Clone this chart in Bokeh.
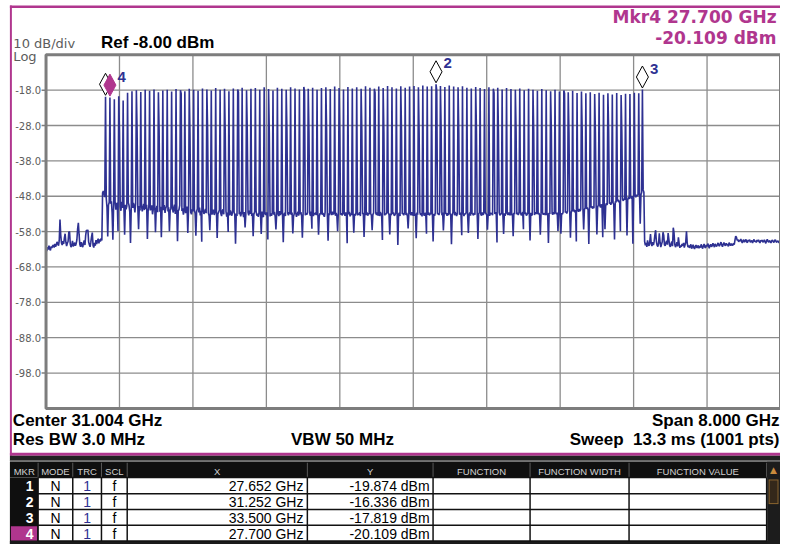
import numpy as np
from bokeh.plotting import figure
from bokeh.models import Range1d
from bokeh.embed import file_html
from bokeh.resources import INLINE
from bokeh.core.properties import value

# ---------------- instrument settings ----------------
center_ghz = 31.004
span_ghz = 8.000
n_points = 1001
ref_level_dbm = -8.00
db_per_div = 10
n_divisions = 10
rbw_text = "Res BW 3.0 MHz"
vbw_text = "VBW 50 MHz"
sweep_text = "Sweep\u00a0 13.3 ms (1001 pts)"

y_tick_values = [-18.0, -28.0, -38.0, -48.0, -58.0, -68.0, -78.0, -88.0, -98.0]
x_grid_values = [27.804, 28.604, 29.404, 30.204, 31.004, 31.804, 32.604, 33.404, 34.204]

# ---------------- marker table ----------------
marker_ids = ["1", "2", "3", "4"]
marker_mode = ["N", "N", "N", "N"]
marker_trc = ["1", "1", "1", "1"]
marker_scl = ["f", "f", "f", "f"]
marker_freq_ghz = [27.652, 31.252, 33.500, 27.700]
marker_level_dbm = [-19.874, -16.336, -17.819, -20.109]
active_marker = 3
table_headers = ["MKR", "MODE", "TRC", "SCL", "X", "Y", "FUNCTION", "FUNCTION WIDTH", "FUNCTION VALUE"]

# ---------------- trace (dBm per sweep point) ----------------
noise_left_dbm = [
    -62.8, -63.5, -62.4, -63.1, -62.0, -62.9, -63.3, -62.2, -62.6, -62.0,
    -61.8, -62.5, -61.5, -62.3, -61.7, -60.9, -61.4, -62.0, -60.5, -54.6,
    -58.9, -61.2, -61.8, -60.7, -61.5, -59.8, -58.6, -61.0, -62.1, -61.3,
    -60.8, -58.2, -58.0, -61.5, -62.4, -61.9, -60.6, -62.2, -61.8, -61.1,
    -62.0, -61.4, -60.3, -57.2, -55.5, -58.8, -61.6, -62.3, -61.0, -61.9,
    -62.4, -61.2, -60.5, -61.8, -59.0, -57.6, -57.8, -57.5, -60.9, -61.7,
    -62.3, -61.0, -59.4, -58.3, -61.9, -62.5, -61.2, -62.0, -60.4, -61.5,
    -60.6, -60.0, -61.3, -60.2, -60.8, -59.9, -60.5,
]
shoulder_left_dbm = [-47.0, -46.5, -47.3, -48.2]

tone_peak_dbm = [
    -19.87, -20.11, -20.6, -19.7, -20.9, -18.7, -18.3, -18.0, -18.5, -17.9,
    -18.2, -17.8, -18.6, -18.1, -17.9, -18.4, -17.7, -18.0, -18.3, -17.6,
    -17.9, -18.2, -17.5, -17.8, -18.1, -17.4, -17.9, -17.6, -18.3, -17.5,
    -17.8, -17.3, -18.0, -17.6, -17.4, -17.9, -17.2, -17.7, -18.1, -17.3,
    -17.6, -17.9, -17.2, -17.5, -17.8, -17.1, -17.6, -17.3, -17.9, -17.4,
    -17.2, -17.7, -17.0, -17.4, -17.8, -17.1, -17.5, -17.2, -17.6, -16.9,
    -17.3, -17.6, -17.0, -17.4, -16.8, -17.2, -17.5, -16.9, -17.3, -17.0,
    -16.8, -17.2, -16.7, -17.0, -16.9, -16.34, -16.8, -17.1, -16.7, -17.0,
    -17.2, -16.9, -17.3, -17.5, -17.1, -17.4, -17.7, -17.2, -17.6, -17.3,
    -17.8, -17.4, -17.7, -17.9, -17.5, -18.0, -17.6, -17.9, -18.2, -17.7,
    -18.0, -18.3, -17.9, -18.4, -18.1, -18.6, -18.2, -18.8, -18.4, -18.9,
    -18.6, -19.1, -18.7, -19.3, -18.9, -19.2, -18.8, -19.4, -19.0, -19.1,
    -18.7, -18.9, -17.82,
]

gap_floor_dbm = [
    [-48.6, -51.2, -59.4, -50.5, -49.7], [-50.1, -49.4, -52.8, -60.3, -50.6],
    [-49.5, -51.8, -50.2, -49.9, -57.8], [-30.2, -50.9, -52.1, -49.6, -51.3],
    [-51.0, -58.9, -50.4, -51.7, -50.8], [-49.8, -50.6, -52.4, -61.2, -51.5],
    [-51.3, -49.9, -50.7, -52.6, -50.1], [-29.6, -51.4, -57.3, -50.8, -52.0],
    [-50.7, -52.3, -51.1, -50.2, -51.9], [-51.6, -50.4, -60.1, -52.2, -50.9],
    [-52.0, -51.3, -50.6, -53.1, -51.7], [-50.3, -58.2, -51.8, -50.7, -52.5],
    [-29.8, -52.4, -51.0, -59.6, -51.2], [-51.9, -50.5, -52.7, -51.4, -50.8],
    [-52.3, -51.1, -57.9, -52.0, -51.6], [-50.9, -52.6, -51.3, -50.4, -53.0],
    [-51.5, -60.7, -52.1, -51.8, -50.6], [-18.9, -52.2, -51.4, -53.2, -52.0],
    [-52.8, -51.6, -50.9, -58.4, -51.9], [-30.4, -52.5, -53.1, -51.7, -52.3],
    [-51.8, -52.9, -59.2, -52.4, -51.5], [-52.6, -51.2, -53.4, -52.1, -60.9],
    [-51.9, -53.0, -52.3, -51.6, -52.8], [-29.4, -52.7, -53.5, -57.6, -52.0],
    [-53.2, -52.4, -51.8, -53.3, -52.6], [-52.1, -59.8, -53.0, -52.5, -51.9],
    [-52.9, -53.6, -52.2, -51.7, -53.1], [-30.1, -52.3, -53.8, -52.6, -58.1],
    [-53.4, -52.0, -52.8, -53.5, -52.2], [-52.5, -53.2, -61.4, -52.9, -53.6],
    [-18.6, -53.1, -52.4, -53.7, -52.8], [-52.7, -53.9, -52.5, -56.8, -53.2],
    [-29.7, -52.6, -53.4, -52.1, -53.0], [-53.6, -52.8, -59.3, -53.1, -52.4],
    [-52.2, -53.5, -52.9, -53.8, -52.6], [-53.0, -58.7, -52.3, -53.4, -53.9],
    [-52.8, -53.3, -52.6, -53.0, -60.2], [-30.3, -53.7, -52.9, -53.5, -52.7],
    [-53.2, -52.4, -53.8, -57.4, -53.1], [-52.9, -53.6, -52.2, -53.3, -52.8],
    [-53.5, -61.0, -53.1, -52.7, -53.6], [-29.5, -52.8, -53.4, -52.5, -53.0],
    [-53.3, -52.6, -58.5, -53.7, -52.9], [-52.7, -53.8, -53.0, -52.4, -53.5],
    [-53.1, -52.5, -53.6, -59.7, -52.8], [-18.4, -53.4, -52.7, -53.2, -52.6],
    [-30.0, -52.9, -53.5, -52.3, -57.2], [-53.6, -52.8, -53.1, -52.6, -53.3],
    [-52.4, -58.9, -53.7, -52.9, -53.0], [-53.2, -52.7, -53.4, -53.8, -52.5],
    [-29.3, -53.0, -60.6, -52.8, -53.4], [-52.6, -53.3, -52.4, -53.1, -52.9],
    [-53.5, -52.7, -53.6, -57.9, -52.3], [-30.6, -53.2, -52.8, -53.4, -53.0],
    [-52.8, -53.5, -52.6, -53.2, -61.3], [-53.1, -52.4, -53.7, -52.9, -53.3],
    [-52.7, -58.3, -53.0, -53.5, -52.6], [-53.4, -52.9, -53.2, -52.5, -53.6],
    [-29.8, -53.1, -52.7, -59.5, -53.0], [-53.3, -52.6, -53.5, -52.8, -53.1],
    [-52.9, -53.4, -57.6, -53.2, -52.7], [-18.7, -52.8, -53.3, -52.6, -53.5],
    [-53.6, -52.5, -53.0, -53.7, -60.4], [-30.2, -53.4, -52.9, -53.1, -52.6],
    [-52.7, -53.2, -58.8, -52.9, -53.4], [-53.0, -52.6, -53.5, -53.3, -52.8],
    [-52.5, -61.8, -53.1, -52.7, -53.6], [-29.9, -53.0, -52.8, -53.4, -52.6],
    [-53.3, -52.7, -53.6, -57.1, -53.0], [-52.8, -53.4, -52.5, -53.1, -53.5],
    [-53.5, -52.9, -59.9, -52.6, -53.2], [-30.5, -52.6, -53.3, -52.8, -53.7],
    [-52.9, -53.5, -52.7, -53.0, -58.6], [-53.2, -52.6, -53.4, -52.9, -53.1],
    [-52.6, -60.8, -53.0, -53.5, -52.7], [-18.2, -53.1, -52.8, -53.3, -52.5],
    [-29.6, -53.4, -52.6, -57.7, -53.2], [-53.0, -52.7, -53.5, -52.8, -53.4],
    [-52.8, -53.3, -61.6, -53.1, -52.6], [-53.4, -52.5, -53.0, -53.6, -52.9],
    [-30.1, -53.2, -52.7, -53.3, -59.0], [-52.7, -53.6, -52.9, -53.1, -52.5],
    [-53.3, -58.4, -53.2, -52.6, -53.5], [-52.9, -53.0, -53.4, -52.7, -53.2],
    [-29.4, -52.8, -60.1, -53.0, -52.6], [-53.1, -53.5, -52.6, -53.3, -52.9],
    [-52.6, -52.9, -53.3, -57.5, -53.0], [-53.5, -52.7, -53.0, -52.8, -53.4],
    [-18.8, -53.0, -52.5, -53.2, -61.1], [-30.4, -52.6, -53.4, -52.9, -53.1],
    [-53.2, -58.7, -52.8, -53.5, -52.7], [-52.8, -53.3, -52.6, -53.0, -53.4],
    [-53.4, -52.9, -59.3, -52.7, -53.1], [-29.7, -53.1, -52.7, -53.3, -52.6],
    [-52.7, -53.4, -53.0, -52.5, -57.3], [-53.0, -52.6, -53.5, -53.1, -52.8],
    [-52.9, -60.5, -52.7, -53.2, -53.4], [-30.0, -53.3, -52.8, -52.6, -53.0],
    [-53.1, -52.7, -53.4, -58.9, -52.6], [-52.6, -53.2, -52.9, -53.0, -53.3],
    [-53.3, -52.8, -61.2, -52.7, -53.0], [-29.5, -52.9, -53.2, -52.5, -53.1],
    [-52.7, -53.0, -52.6, -57.8, -52.9], [-52.4, -58.6, -52.8, -53.1, -52.5],
    [-18.9, -52.6, -52.3, -52.9, -52.2], [-30.2, -52.1, -59.7, -52.6, -52.0],
    [-52.3, -51.8, -52.5, -51.9, -60.8], [-51.9, -52.4, -51.6, -52.2, -51.7],
    [-29.8, -51.5, -57.4, -51.8, -51.3], [-51.6, -51.2, -51.9, -61.5, -51.0],
    [-51.2, -50.8, -51.5, -50.9, -51.4], [-30.4, -50.6, -58.8, -51.1, -50.4],
    [-50.7, -51.2, -50.3, -50.9, -59.6], [-50.2, -57.3, -50.6, -50.0, -50.5],
    [-29.6, -50.1, -49.8, -50.4, -49.6], [-49.9, -50.3, -60.2, -49.5, -49.8],
    [-49.4, -49.0, -49.7, -49.2, -57.9], [-30.1, -48.9, -49.3, -48.7, -49.0],
    [-48.6, -59.1, -48.9, -48.3, -48.8], [-48.2, -48.7, -47.9, -61.4, -48.4],
    [-47.8, -48.3, -47.6, -48.0, -47.5], [-47.2, -55.8, -47.6, -46.9],
]
shoulder_right_dbm = [-46.2, -46.9]

noise_right_dbm = [
    -60.8, -61.9, -61.2, -62.3, -60.5, -61.7, -62.0, -60.9, -58.7, -61.5,
    -62.1, -61.0, -61.8, -60.7, -58.9, -57.6, -60.8, -61.9, -62.2, -61.3,
    -58.5, -61.0, -62.4, -61.6, -60.9, -58.2, -59.0, -61.8, -62.0, -61.1,
    -60.6, -61.7, -58.4, -60.2, -61.9, -62.3, -61.5, -60.8, -62.1, -56.9,
    -58.3, -61.6, -62.4, -61.8, -61.0, -62.2, -59.6, -61.4, -62.6, -61.9,
    -62.3, -61.5, -62.0, -61.2, -62.5, -61.8, -60.9, -57.9, -61.3, -62.4,
    -61.9, -62.6, -62.1, -61.6, -62.8, -62.3, -61.7, -62.5, -62.9, -62.2,
    -61.8, -62.6, -62.4, -61.9, -62.7, -62.1, -62.5, -61.6, -62.3, -62.8,
    -62.0, -61.5, -62.4, -62.6, -61.8, -62.2, -61.4, -62.0, -62.7, -61.9,
    -61.6, -62.3, -62.0, -61.3, -61.8, -62.4, -61.5, -61.9, -62.2, -61.7,
    -61.2, -61.9, -62.1, -61.4, -61.0, -61.8, -62.3, -61.6, -61.1, -61.7,
    -62.0, -61.3, -61.8, -61.5, -62.2, -61.1, -61.6, -62.0, -61.4, -61.8,
    -61.9, -61.3, -61.7, -60.4, -59.3, -59.6, -60.5, -60.2, -60.9, -60.4,
    -60.7, -60.1, -60.8, -61.2, -60.5, -60.3, -61.0, -60.6, -60.2, -60.9,
    -61.1, -60.4, -60.7, -60.3, -61.0, -60.8, -60.5, -61.2, -60.6, -60.2,
    -60.9, -60.6, -61.1, -60.4, -60.8, -60.3, -60.9, -61.2, -60.5, -60.7,
    -60.4, -61.0, -60.8, -60.3, -60.9, -61.3, -60.6, -60.2, -60.8, -61.0,
    -60.5, -60.9, -61.2, -60.6, -60.4, -60.8, -61.1, -60.5, -60.3, -60.9,
    -61.0, -60.6, -60.8, -61.2, -60.5, -60.9,
]

trace_dbm = list(noise_left_dbm) + list(shoulder_left_dbm)
for k, pk in enumerate(tone_peak_dbm):
    trace_dbm.append(pk)
    if k < len(gap_floor_dbm):
        trace_dbm.extend(gap_floor_dbm[k])
trace_dbm += shoulder_right_dbm + noise_right_dbm
assert len(trace_dbm) == n_points, len(trace_dbm)

start_ghz = center_ghz - span_ghz / 2
stop_ghz = center_ghz + span_ghz / 2
bottom_dbm = ref_level_dbm - db_per_div * n_divisions
freq_ghz = np.linspace(start_ghz, stop_ghz, n_points)

# ---------------- styling / layout ----------------
NAVY = "#2e3192"
MAGENTA = "#b0368e"
GRAY_TXT = "#5c5c5c"
GRID = "#8c8c8c"
ARIAL = "Liberation Sans"
WIDE = "DejaVu Sans"

W, H = 780, 544                 # canvas
REF_W, REF_H = 788, 552         # screen layout size
SX, SY = W / REF_W, H / REF_H
GRAT_L, GRAT_R, GRAT_T, GRAT_B = 46.0, 788.0, 55.1, 413.9   # graticule in screen pixels
gl, gr, gt, gb = GRAT_L * SX, GRAT_R * SX, GRAT_T * SY, GRAT_B * SY
px_per_ghz = (gr - gl) / span_ghz
px_per_db = (gb - gt) / (ref_level_dbm - bottom_dbm)


def X(px):   # screen pixel -> frequency coordinate
    return start_ghz + (px * SX - gl) / px_per_ghz


def Y(py):   # screen pixel -> level coordinate
    return ref_level_dbm - (py * SY - gt) / px_per_db


p = figure(width=W, height=H, min_border=0, title=None,
           x_range=Range1d(X(0), X(REF_W)), y_range=Range1d(Y(REF_H), Y(0)),
           x_axis_location=None, y_axis_location=None,
           output_backend="svg", toolbar_location=None)
p.background_fill_color = "white"
p.border_fill_color = "white"
p.outline_line_color = None
p.xgrid.visible = False
p.ygrid.visible = False


def txt(px, py, text, size, color="black", font=ARIAL, style="normal", align="left"):
    """px: anchor x in screen pixels, py: text baseline in screen pixels"""
    cap_mid = 0.36 * size / px_per_db
    p.text(x=[X(px)], y=[Y(py) + cap_mid], text=[text], text_font=value(font),
           text_font_size=f"{size}px", text_color=color, text_font_style=style,
           text_align=align, text_baseline="middle")


# graticule
p.segment(x0=x_grid_values, x1=x_grid_values, y0=bottom_dbm, y1=ref_level_dbm,
          line_color=GRID, line_width=1.3)
p.segment(x0=start_ghz, x1=stop_ghz, y0=y_tick_values, y1=y_tick_values,
          line_color=GRID, line_width=1.3)
p.segment(x0=X(41.5), x1=start_ghz, y0=y_tick_values, y1=y_tick_values,
          line_color="#7d7d7d", line_width=1.5)
p.text(x=X(41), y=y_tick_values, text=[f"{v:.1f}" for v in y_tick_values],
       text_font=value(WIDE), text_font_size="10px", text_color=GRAY_TXT,
       text_align="right", text_baseline="middle")

# trace
p.line(freq_ghz, trace_dbm, line_color=NAVY, line_width=1.6)

# graticule border
p.quad(left=start_ghz, right=stop_ghz, bottom=bottom_dbm, top=ref_level_dbm,
       fill_color=None, line_color="#7d7d7d", line_width=3)

# markers (diamonds sitting above the marked point)
hw, hh, lift = 6.0 / px_per_ghz, 11.0 / px_per_db, 12.5 / px_per_db
order = [i for i in range(len(marker_ids)) if i != active_marker] + [active_marker]
xs, ys, fills, lines = [], [], [], []
for i in order:
    f, lv = marker_freq_ghz[i], marker_level_dbm[i]
    c = lv + lift
    xs.append([f, f + hw, f, f - hw])
    ys.append([c + hh, c, c - hh, c])
    fills.append(MAGENTA if i == active_marker else "white")
    lines.append(MAGENTA if i == active_marker else "black")
p.patches(xs, ys, fill_color=fills, line_color=lines, line_width=1)

lab_idx = [1, 2, 3]
p.text(x=[marker_freq_ghz[i] + 7.5 / px_per_ghz for i in lab_idx],
       y=[marker_level_dbm[i] + (15.5 + 0.36 * 15) / px_per_db for i in lab_idx],
       text=[marker_ids[i] for i in lab_idx], text_font=value(ARIAL), text_font_style="bold",
       text_font_size="15px", text_color=NAVY, text_baseline="middle")

# ---------------- screen frame and marker table (screen pixels) ----------------
bx = {"l": [], "r": [], "t": [], "b": [], "c": []}


def box(x0, x1, y0, y1, color):
    bx["l"].append(X(x0)); bx["r"].append(X(x1))
    bx["t"].append(Y(y0)); bx["b"].append(Y(y1)); bx["c"].append(color)


box(9.5, 788, 5, 7.5, MAGENTA)
box(9.5, 11.5, 5, 462, MAGENTA)
box(9.5, 788, 459, 462, MAGENTA)
box(9.5, 788, 462, 467, "#222222")
box(9.5, 788, 466.5, 468, "#707070")

col_edges = [10, 38, 73, 102, 128, 310, 437, 535, 635, 774]
row_edges = [484, 500.5, 516.5, 532.5, 548.5]
box(9.5, 788, 468, 484, "#0f0f0f")
for e in col_edges[1:]:
    box(e - 0.5, e + 0.5, 469, 484, "#5a5a5a")
box(9.5, 38, 484, 552, "#0f0f0f")
box(38, 774, 484, row_edges[-1], "#ffffff")
box(9.5, 788, row_edges[-1], 552, "#1a1a1a")
act_top, act_bot = row_edges[active_marker], row_edges[active_marker + 1]
box(10.5, 37, act_top + 1, act_bot - 0.5, MAGENTA)
for y in row_edges:
    box(38, 774, y - 0.75, y + 0.75, "#111111")
for e in col_edges[1:]:
    box(e - 0.75, e + 0.75, 484, row_edges[-1], "#111111")
box(774.5, 788, 468, 552, "#1c1c1c")
box(776, 786, 486, 511, "#8a6530")
box(777, 785, 487, 510, "#34281a")

p.quad(left=bx["l"], right=bx["r"], top=bx["t"], bottom=bx["b"],
       fill_color=bx["c"], line_color=None)

txt(781, 480, "\u25b2", 9, "#c98a3c", font=WIDE, align="center")
for j, h in enumerate(table_headers):
    cx = (col_edges[j] + col_edges[j + 1]) / 2
    txt(cx, 481.5, h, 9.5, "#d2d2d2", align="center")

for r in range(len(marker_ids)):
    base = row_edges[r + 1] - 2.5
    txt(33.5, base, marker_ids[r], 14, "white", style="bold", align="right")
    txt((col_edges[1] + col_edges[2]) / 2, base, marker_mode[r], 14, "black", align="center")
    txt((col_edges[2] + col_edges[3]) / 2, base, marker_trc[r], 14, NAVY, align="center")
    txt((col_edges[3] + col_edges[4]) / 2, base, marker_scl[r], 14, "black", align="center")
    txt(306, base, f"{marker_freq_ghz[r]:.3f} GHz", 14, "black", align="right")
    txt(433.5, base, f"{marker_level_dbm[r]:.3f} dBm", 14, "black", align="right")

# annotations around the graticule
txt(13, 48.3, f"{db_per_div} dB/div", 13, GRAY_TXT, font=WIDE)
txt(13, 61.5, "Log", 13, GRAY_TXT, font=WIDE)
txt(101.5, 49.3, f"Ref {ref_level_dbm:.2f} dBm", 17, "black", style="bold")
txt(784, 22.7, f"Mkr{marker_ids[active_marker]} {marker_freq_ghz[active_marker]:.3f} GHz",
    17, MAGENTA, font=WIDE, style="bold", align="right")
txt(784, 44.3, f"{marker_level_dbm[active_marker]:.3f} dBm", 17, MAGENTA, font=WIDE,
    style="bold", align="right")

txt(12.5, 432.7, f"Center {center_ghz:.3f} GHz", 17, "black", style="bold")
txt(12.5, 451.7, rbw_text, 17, "black", style="bold")
txt(293.5, 451.7, vbw_text, 17, "black", style="bold")
txt(787, 432.7, f"Span {span_ghz:.3f} GHz", 17, "black", style="bold", align="right")
txt(787, 451.7, sweep_text, 17, "black", style="bold", align="right")

open("out.html", "w").write(file_html(p, INLINE))
